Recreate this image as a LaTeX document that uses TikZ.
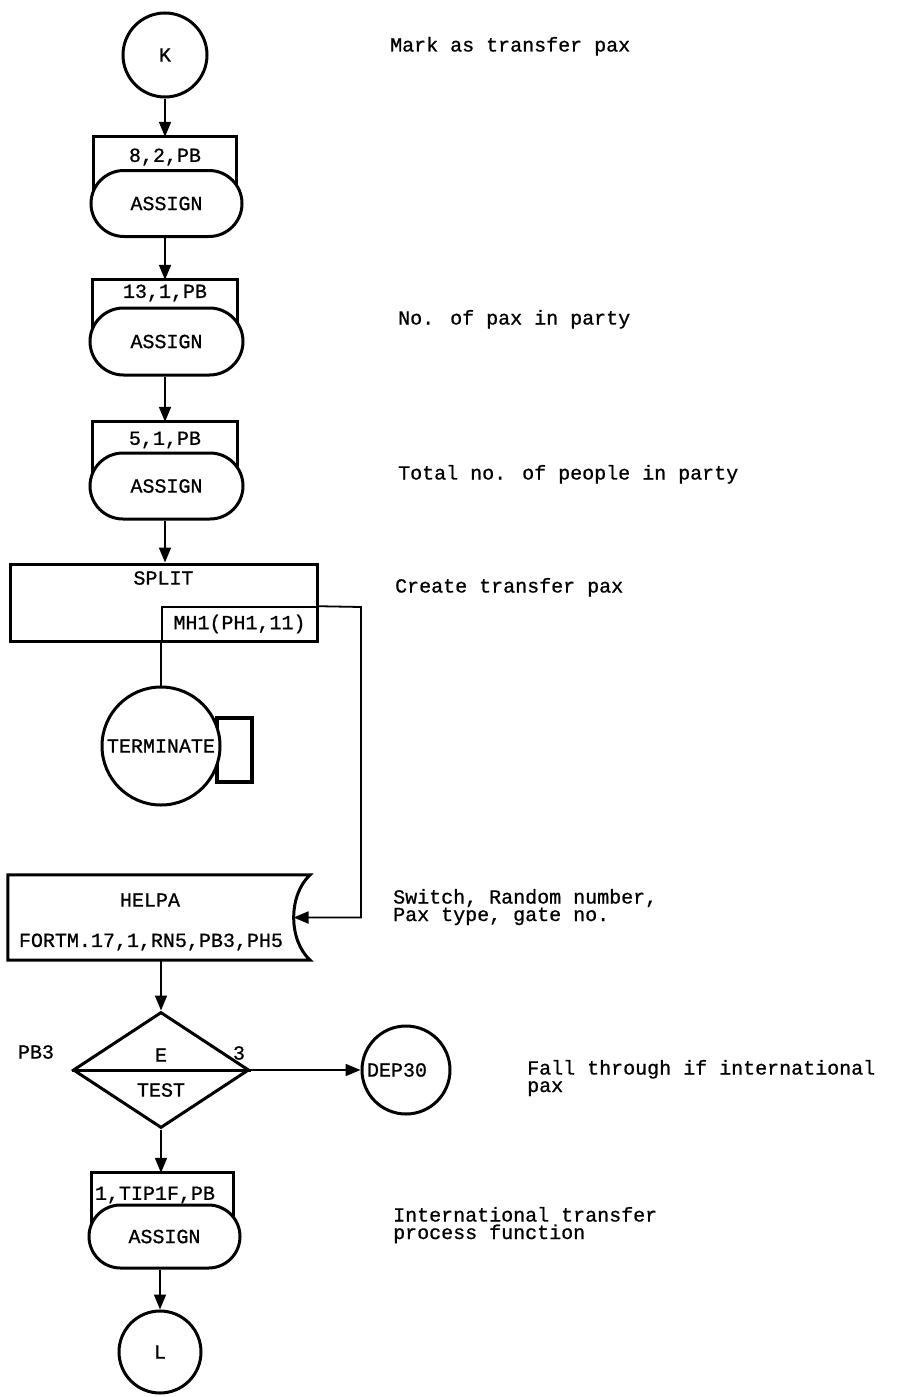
\documentclass[tikz,border=0pt]{standalone}
\usepackage{fontspec}
\setmainfont{Liberation Mono}[FakeBold=0.8]
\usetikzlibrary{arrows.meta,shapes.geometric}
\begin{document}
\begin{tikzpicture}[x=1pt,y=-1pt,
  every node/.style={font=\fontsize{20}{17.5}\selectfont, inner sep=0pt},
  shp/.style={draw, line width=3pt},
  thinbox/.style={draw, line width=1.6pt},
  conn/.style={line width=1.8pt},
  arr/.style={conn, -{Triangle[length=15pt,width=12pt]}},
  circ/.style={shp, circle, fill=white},
  stad/.style={shp, fill=white, rectangle},
  note/.style={anchor=base west, align=left},
]
\path[use as bounding box, fill=white] (0,0) rectangle (898,1397);

% K
\node[circ, minimum size=84pt] (K) at (165,55) {K};

% block 1
\node[minimum width=142pt, minimum height=40pt] (r1) at (165,157) {8,2,PB};
\draw[shp] ([yshift=-30pt]r1.south west) -- (r1.north west) -- (r1.north east) -- ([yshift=-30pt]r1.south east);
\node[stad, minimum width=151pt, minimum height=66pt, rounded corners=33pt] (s1) at (166.5,203.5) {ASSIGN};
\draw[arr] (K.south) -- (r1.north);

% block 2
\node[minimum width=144pt, minimum height=26pt] (r2) at (165,293) {13,1,PB};
\draw[shp] ([yshift=-40pt]r2.south west) -- (r2.north west) -- (r2.north east) -- ([yshift=-40pt]r2.south east);
\node[stad, minimum width=153pt, minimum height=67pt, rounded corners=33.5pt] (s2) at (166.5,341.5) {ASSIGN};
\draw[arr] (r2.north |- s1.south) -- (r2.north);

% block 3
\node[minimum width=144pt, minimum height=36pt] (r3) at (165,440) {5,1,PB};
\draw[shp] ([yshift=-35pt]r3.south west) -- (r3.north west) -- (r3.north east) -- ([yshift=-35pt]r3.south east);
\node[stad, minimum width=153pt, minimum height=66pt, rounded corners=33pt] (s3) at (166.5,486) {ASSIGN};
\draw[arr] (r3.north |- s2.south) -- (r3.north);

% SPLIT
\node[shp, minimum width=307pt, minimum height=77pt] (split) at (163.5,602.5) {};
\node (splitlbl) at (163.5,578) {SPLIT};
\node[thinbox, minimum width=155pt, minimum height=34pt] (mh1) at (239.5,624) {MH1(PH1,11)};
\draw[arr] (r3.north |- s3.south) -- (r3.north |- split.north);

% TERMINATE
\node[draw, line width=3.6pt, minimum width=35pt, minimum height=64pt] (tsq) at (234.5,750) {};
\node[circ, minimum size=118pt] (term) at (161,746) {TERMINATE};
\draw[conn] (mh1.south west) -- (mh1.south west |- term.north);

% HELPA
\node[minimum width=302pt, minimum height=85pt] (helpa) at (159,917.5) {};
\draw[shp] (helpa.north west) -- (helpa.north east) .. controls +(-22,20) and +(-22,-20) .. (helpa.south east) -- (helpa.south west) -- cycle;
\node (helpat) at (150,900) {HELPA};
\node (fortm) at (151,942) {FORTM.17,1,RN5,PB3,PH5};
\coordinate (hin) at (293.5,917.5);
\coordinate (loopc) at (361,607);
\draw[arr] (mh1.north east) -- (loopc) |- (hin);

% TEST
\node[shp, diamond, minimum width=176pt, minimum height=116pt] (dia) at (161,1070) {};
\draw[shp] (dia.west) -- (dia.east);
\node (E) at (161,1055) {E};
\node (TEST) at (161,1090) {TEST};
\node (three) at (239,1053) {3};
\node (pb3) at (36,1052) {PB3};
\draw[arr] (helpa.south -| dia.north) -- (dia.north);

% DEP30
\node[circ, minimum size=88pt] (dep) at (406,1070) {};
\node (deplbl) at (397,1070) {DEP30};
\draw[arr] (dia.east) -- (dep.west);

% block 4
\node[minimum width=141pt, minimum height=44pt] (r4) at (162.5,1195) {};
\draw[shp] ([yshift=-30pt]r4.south west) -- (r4.north west) -- (r4.north east) -- ([yshift=-30pt]r4.south east);
\node (t4) at (155,1195) {1,TIP1F,PB};
\node[stad, minimum width=151pt, minimum height=63pt, rounded corners=31.5pt] (s4) at (164.5,1236.5) {ASSIGN};
\draw[arr] (dia.south) -- (dia.south |- r4.north);

% L
\node[circ, minimum size=82pt] (L) at (160,1352) {L};
\draw[arr] (L.north |- s4.south) -- (L.north);

% notes
\node[note] (n1) at (390,51.5) {Mark as transfer pax};
\node[note] (n2) at (398,324.5) {No. of pax in party};
\node[note] (n3) at (398,479.5) {Total no. of people in party};
\node[note] (n4) at (395,592.5) {Create transfer pax};
\node[note] (n5) at (393,921) {Switch, Random number,\\Pax type, gate no.};
\node[note] (n6) at (527,1092) {Fall through if international\\pax};
\node[note] (n7) at (393,1239) {International transfer\\process function};
\end{tikzpicture}
\end{document}
